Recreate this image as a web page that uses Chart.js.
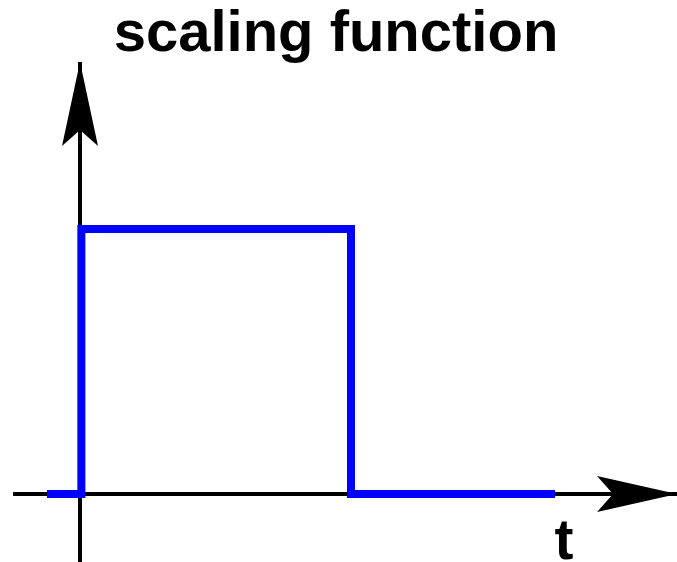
<!DOCTYPE html>
<html>
<head>
<meta charset="utf-8">
<script src="https://cdn.jsdelivr.net/npm/chart.js@4"></script>
<style>
  html, body { margin: 0; padding: 0; background: #fff; }
  #wrap { width: 677px; height: 562px; }
</style>
</head>
<body>
<div id="wrap"><canvas id="chart"></canvas></div>
<script>
// data
const titleText = 'scaling function';
const axisLabel = 't';
const stepT = [-0.122, 0.005, 0.005, 1, 1, 1.753];
const stepY = [0, 0, 1, 1, 0, 0];
const tAxisT = [-0.247, 2.203];
const yAxisY = [-0.257, 1.63];

const stepPoints = stepT.map((t, i) => ({ x: t, y: stepY[i] }));

// arrows + text
const decorations = {
    id: 'decorations',
    afterDatasetsDraw(chart) {
        const ctx = chart.ctx;
        const xs = chart.scales.x, ys = chart.scales.y;
        const x0 = xs.getPixelForValue(0), y0 = ys.getPixelForValue(0);
        ctx.save();
        ctx.fillStyle = '#000';
        // y arrow
        const yt = ys.getPixelForValue(yAxisY[1]);
        ctx.beginPath();
        ctx.moveTo(x0, yt);
        ctx.lineTo(x0 + 18, yt + 84);
        ctx.lineTo(x0, yt + 68);
        ctx.lineTo(x0 - 18, yt + 84);
        ctx.closePath();
        ctx.fill();
        // t arrow
        const xt = xs.getPixelForValue(tAxisT[1]);
        ctx.beginPath();
        ctx.moveTo(xt, y0);
        ctx.lineTo(xt - 80, y0 - 18);
        ctx.lineTo(xt - 64, y0);
        ctx.lineTo(xt - 80, y0 + 18);
        ctx.closePath();
        ctx.fill();
        ctx.font = 'bold 57px "Liberation Sans", Arial, sans-serif';
        ctx.textAlign = 'center';
        ctx.textBaseline = 'alphabetic';
        ctx.fillText(axisLabel, xs.getPixelForValue(1.786), 559);
        ctx.font = 'bold 58px "Liberation Sans", Arial, sans-serif';
        ctx.fillText(titleText, 336, 51);
        ctx.restore();
    }
};

const config = {
    type: 'line',
    data: {
        datasets: [{
            label: 'phi(t)',
            data: stepPoints,
            borderColor: '#0000ff',
            borderWidth: 8,
            borderJoinStyle: 'miter',
            borderCapStyle: 'butt',
            pointRadius: 0,
            tension: 0
        },
        {
            label: 't axis',
            data: tAxisT.map(t => ({ x: t, y: 0 })),
            borderColor: '#000',
            borderWidth: 4,
            pointRadius: 0
        },
        {
            label: 'y axis',
            data: yAxisY.map(v => ({ x: 0, y: v })),
            borderColor: '#000',
            borderWidth: 4,
            pointRadius: 0
        }]
    },
    options: {
        responsive: true,
        maintainAspectRatio: false,
        animation: false,
        layout: { padding: 0 },
        plugins: {
            legend: { display: false },
            tooltip: { enabled: false }
        },
        scales: {
            x: { type: 'linear', display: false, min: -80 / 271, max: 597 / 271 },
            y: { type: 'linear', display: false, min: -68 / 265, max: 494 / 265 }
        }
    },
    plugins: [decorations]
};

new Chart(document.getElementById('chart'), config);
</script>
</body>
</html>
